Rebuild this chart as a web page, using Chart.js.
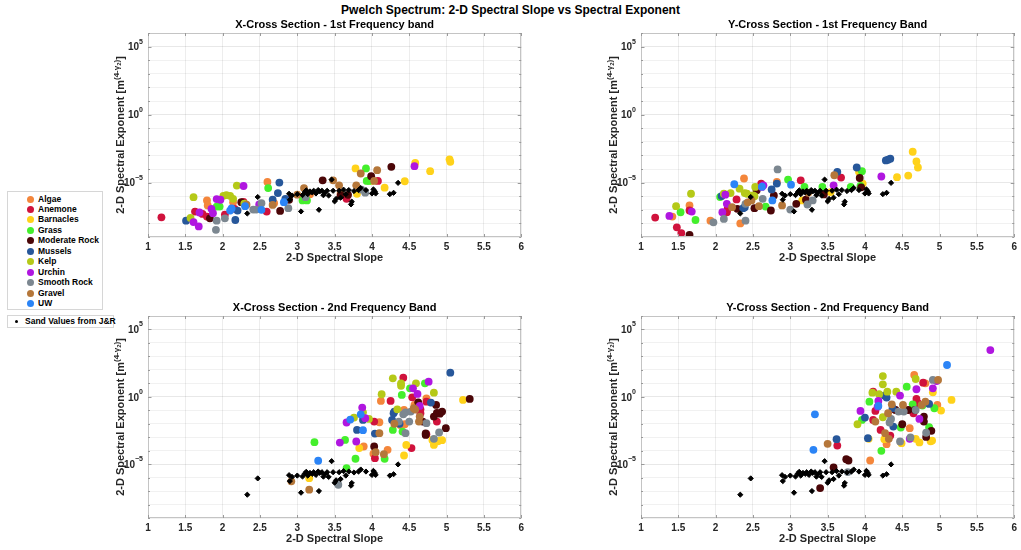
<!DOCTYPE html>
<html>
<head>
<meta charset="utf-8">
<script src="https://cdn.jsdelivr.net/npm/chart.js"></script>
<style>
html, body { margin: 0; padding: 0; background: #fff; overflow: hidden; width: 1021px; height: 550px; font-family: "Liberation Sans", Arial, sans-serif; }
canvas { position: absolute; }
#title { position: absolute; left: 0; top: 3px; width: 1021px; text-align: center; font-weight: bold; font-size: 12px; color: #000; }
.leg { position: absolute; background: #fff; border: 1px solid #d6d6d6; font-weight: bold; font-size: 8.5px; color: #000; }
.leg div { position: absolute; white-space: nowrap; }
.dot { position: absolute; width: 7px; height: 7px; border-radius: 50%; }
</style>
</head>
<body>
<div id="title">Pwelch Spectrum: 2-D Spectral Slope vs Spectral Exponent</div>
<div class="leg" id="leg1" style="left:7px;top:191px;width:94px;height:117px"></div>
<div class="leg" id="leg2" style="left:7px;top:315px;width:105px;height:11px"></div>

<canvas id="c1" width="428" height="256" style="left:100px;top:11px"></canvas>
<canvas id="c2" width="428" height="256" style="left:593px;top:11px"></canvas>
<canvas id="c3" width="428" height="254" style="left:100px;top:294px"></canvas>
<canvas id="c4" width="428" height="254" style="left:593px;top:294px"></canvas>

<script>
// categories and colours
const categories = ['Algae', 'Anemone', 'Barnacles', 'Grass', 'Moderate Rock', 'Mussels', 'Kelp', 'Urchin', 'Smooth Rock', 'Gravel', 'UW'];
const colors = ['#f4863b', '#d0123c', '#ffd21a', '#44ef2c', '#4b0608', '#27579a', '#b5c918', '#b016e0', '#7c8790', '#b5773a', '#2b84f6'];

// points are [2-D spectral slope, log10 of spectral exponent]
// sand values from J&R (same in every panel)
const sand = [[2.33,-7.27],[2.47,-6.06],[2.89,-5.82],[2.90,-6.26],[2.93,-5.95],[3.00,-5.85],[3.05,-7.12],[3.07,-5.92],
  [3.10,-5.70],[3.12,-5.57],[3.14,-5.85],[3.17,-5.65],[3.20,-5.72],[3.22,-5.60],[3.25,-5.80],[3.28,-5.55],[3.29,-7.00],
  [3.30,-5.65],[3.33,-5.60],[3.35,-5.93],[3.37,-5.75],[3.40,-5.60],[3.42,-5.95],[3.46,-4.78],[3.48,-5.60],[3.50,-6.38],
  [3.52,-6.20],[3.56,-5.60],[3.58,-6.11],[3.62,-5.52],[3.65,-5.85],[3.69,-5.55],[3.72,-6.60],[3.73,-6.40],[3.76,-5.62],
  [3.82,-5.55],[3.85,-5.40],[3.92,-5.55],[4.00,-5.80],[4.02,-5.50],[4.04,-5.65],[4.05,-5.80],[4.24,-5.85],[4.29,-5.75],[4.35,-5.02]];

// X-Cross Section - 1st Frequency band
const xs1_algae = [[1.79,-6.31],[1.80,-6.68],[2.14,-6.44],[2.60,-4.95],[2.69,-6.51],[3.17,-5.85],[3.58,-5.80]];
const xs1_anemone = [[1.18,-7.55],[1.63,-7.13],[1.73,-7.30],[1.79,-7.50],[2.03,-7.35],[2.16,-6.93],[2.28,-6.41],[2.59,-7.13],[3.66,-6.19],[4.08,-4.88]];
const xs1_barnacles = [[3.78,-3.96],[3.80,-5.82],[3.99,-4.88],[4.17,-5.37],[4.44,-4.90],[4.58,-3.55],[4.78,-4.16],[5.04,-3.29],[5.05,-3.47]];
const xs1_grass = [[1.92,-6.76],[1.96,-6.76],[2.61,-5.40],[3.07,-6.31],[3.13,-6.31],[3.92,-3.96],[3.93,-4.88],[3.96,-4.88]];
const xs1_modrock = [[1.83,-7.63],[2.25,-6.44],[2.77,-7.08],[2.89,-6.26],[3.34,-4.83],[3.58,-5.94],[3.68,-5.90],[3.99,-4.53],[4.26,-3.84]];
const xs1_mussels = [[1.51,-7.80],[2.17,-7.75],[2.20,-7.06],[2.67,-6.26],[2.74,-5.77],[2.76,-5.00],[2.84,-6.20]];
const xs1_kelp = [[1.57,-7.60],[1.61,-6.07],[2.01,-5.97],[2.05,-5.92],[2.10,-5.97],[2.14,-6.19],[2.19,-5.22],[2.29,-6.55]];
const xs1_urchin = [[1.61,-7.90],[1.68,-8.22],[1.69,-7.20],[1.85,-6.93],[1.87,-7.25],[1.92,-6.21],[1.97,-6.26],[2.28,-5.25],[2.49,-6.61],[4.57,-3.79]];
const xs1_smooth = [[1.91,-8.47],[1.92,-7.80],[2.03,-7.63],[2.41,-6.98],[2.45,-6.98],[2.52,-6.51],[2.88,-6.88],[3.11,-6.07],[3.86,-5.52],[3.91,-5.74]];
const xs1_gravel = [[2.32,-6.63],[2.67,-6.64],[3.00,-5.89],[3.09,-5.40],[3.48,-4.83],[3.56,-5.20],[3.79,-5.20],[3.85,-4.33],[4.03,-4.88],[4.07,-4.09]];
const xs1_uw = [[2.10,-7.06],[2.12,-6.90],[2.30,-6.73],[2.52,-7.00],[2.82,-6.44]];

// Y-Cross Section - 1st Frequency Band
const ys1_algae = [[1.42,-7.50],[1.65,-6.68],[1.93,-7.80],[2.33,-8.00],[2.38,-4.70],[2.82,-4.95]];
const ys1_anemone = [[1.19,-7.57],[1.48,-8.29],[1.54,-8.71],[1.65,-7.05],[2.15,-7.18],[2.16,-6.95],[2.28,-6.24],[2.61,-5.07],[3.14,-4.83],[3.68,-4.63]];
const ys1_barnacles = [[3.16,-6.31],[3.54,-5.70],[3.92,-4.21],[3.97,-5.07],[4.43,-4.60],[4.58,-4.48],[4.64,-2.73],[4.69,-3.45],[4.71,-3.89]];
const ys1_grass = [[1.53,-7.18],[1.73,-7.75],[2.06,-6.06],[2.67,-6.76],[2.97,-4.78],[3.19,-5.32],[3.43,-5.32],[3.81,-5.32],[3.94,-5.25],[3.96,-4.16]];
const ys1_modrock = [[1.65,-8.84],[2.29,-6.93],[2.52,-6.88],[2.55,-5.57],[2.74,-7.05],[2.78,-5.94],[3.08,-6.56],[3.21,-6.26],[3.45,-5.87],[3.93,-4.66],[3.95,-5.35]];
const ys1_mussels = [[2.08,-5.99],[2.37,-6.88],[2.39,-6.81],[2.75,-5.50],[2.82,-5.07],[3.63,-4.21],[3.89,-3.89],[4.28,-3.37],[4.31,-3.32],[4.34,-3.24]];
const ys1_kelp = [[1.47,-6.73],[1.67,-5.82],[2.11,-5.82],[2.20,-5.77],[2.32,-5.45],[2.39,-5.77],[2.42,-5.82],[2.50,-5.94],[2.52,-6.00],[2.53,-5.32]];
const ys1_urchin = [[1.38,-7.45],[1.68,-7.13],[2.09,-7.18],[2.13,-5.89],[2.15,-6.56],[2.62,-5.32],[2.64,-5.20],[3.58,-5.20],[4.22,-4.55]];
const ys1_smooth = [[1.97,-7.92],[2.11,-7.67],[2.40,-6.56],[2.40,-7.80],[2.63,-6.19],[2.83,-4.03],[3.00,-6.98],[3.23,-6.61],[3.30,-6.31]];
const ys1_gravel = [[2.22,-6.81],[2.43,-6.45],[2.48,-6.31],[2.58,-6.73],[2.89,-6.68],[3.24,-5.75],[3.59,-4.46]];
const ys1_uw = [[2.25,-5.12],[2.62,-5.30],[2.76,-6.31],[3.01,-5.15]];

// X-Cross Section - 2nd Frequency Band
const xs2_algae = [[3.89,-3.69],[4.02,-4.23],[4.10,-1.89],[4.12,-0.31],[4.21,-3.94],[4.38,-2.10],[4.43,-0.98],[4.44,-2.04],[4.57,-0.60],[4.73,-0.11]];
const xs2_anemone = [[4.03,-1.84],[4.04,-4.56],[4.25,-0.31],[4.42,1.42],[4.53,-3.81],[4.54,-0.04],[4.65,-0.93],[4.65,-1.22],[4.73,-2.78],[4.73,-0.36],[4.87,-1.84]];
const xs2_barnacles = [[3.16,-6.04],[3.83,-3.81],[4.43,-4.36],[4.46,-3.57],[4.81,-3.20],[4.83,-3.57],[4.88,-3.30],[4.90,-3.25],[4.94,-3.22],[5.22,-0.23]];
const xs2_grass = [[3.23,-3.37],[3.64,-3.20],[3.66,-5.30],[3.78,-4.60],[4.17,-4.60],[4.28,-2.46],[4.40,0.14],[4.41,-2.58],[4.51,0.63],[4.71,1.00]];
const xs2_modrock = [[4.03,-3.69],[4.62,-0.41],[4.68,-1.84],[4.72,-2.83],[4.72,-2.72],[4.83,-1.47],[4.86,-0.60],[4.87,-1.20],[4.91,-1.25],[4.94,-1.10],[4.99,-2.33],[5.31,-0.16]];
const xs2_mussels = [[3.80,-2.46],[3.88,-1.72],[4.04,-2.73],[4.27,-1.72],[4.29,-1.22],[4.30,-1.10],[4.37,-2.00],[4.79,-0.43],[5.05,1.79]];
const xs2_kelp = [[3.76,-1.54],[3.88,-1.15],[3.96,-1.64],[4.13,0.19],[4.28,1.37],[4.34,-0.93],[4.39,1.00],[4.39,0.82],[4.59,1.00],[4.83,0.31]];
const xs2_urchin = [[3.57,-3.40],[3.66,-1.91],[3.79,-3.32],[3.87,-0.80],[3.91,-1.59],[4.55,0.63],[4.61,0.21],[4.64,-0.68],[4.76,1.12]];
const xs2_smooth = [[3.55,-6.53],[4.36,-1.84],[4.42,-1.30],[4.45,-1.15],[4.45,-2.70],[4.50,-1.84],[4.52,-1.10],[4.73,-1.96],[4.83,-3.12],[4.90,-2.65]];
const xs2_gravel = [[2.92,-6.28],[3.16,-6.90],[4.05,-4.11],[4.10,-2.70],[4.16,-4.26],[4.30,-2.00],[4.56,-0.85],[4.58,-0.95],[4.63,-1.84],[4.64,-1.47]];
const xs2_uw = [[3.28,-4.75],[3.71,-1.69],[3.85,-1.30],[3.88,-2.48]];

// Y-Cross Section - 2nd Frequency Band
const ys2_algae = [[4.07,-4.73],[4.29,-3.52],[4.60,-2.33],[4.66,1.62],[4.81,1.00],[4.97,-0.60]];
const ys2_anemone = [[3.63,-3.62],[4.11,-1.72],[4.11,0.38],[4.14,-1.05],[4.21,-2.46],[4.34,-2.88],[4.39,-0.93],[4.65,-1.22],[4.69,-0.16],[4.71,-0.48],[4.78,1.05]];
const ys2_barnacles = [[4.05,-3.12],[4.26,-3.15],[4.49,-3.44],[4.68,-3.12],[4.73,-3.39],[4.88,-3.30],[4.90,-3.25],[4.91,0.33],[5.02,-1.02],[5.16,-0.23]];
const ys2_grass = [[3.96,-1.72],[4.06,-0.36],[4.22,-4.01],[4.48,-2.28],[4.56,0.75],[4.64,-0.56],[4.77,-0.65],[4.86,-2.26],[4.93,-0.85]];
const ys2_modrock = [[3.40,-6.78],[3.58,-5.25],[3.75,-4.63],[3.78,-4.73],[4.41,-0.98],[4.50,-2.04],[4.58,-0.98],[4.67,-0.98],[4.79,-1.47],[4.79,-1.84],[4.82,-2.98],[4.89,-2.53]];
const ys2_mussels = [[3.62,-3.15],[4.00,-1.54],[4.04,-3.07],[4.26,0.09],[4.29,-0.06],[4.37,-0.85],[4.38,-2.21],[4.86,-0.53]];
const ys2_kelp = [[3.90,-2.04],[4.10,0.31],[4.19,0.19],[4.24,-1.52],[4.24,1.54],[4.24,0.93],[4.30,0.38],[4.42,0.38],[4.68,1.32]];
const ys2_urchin = [[3.94,-1.05],[4.17,-0.73],[4.18,-0.31],[4.47,0.09],[4.60,-3.12],[4.69,0.56],[4.73,-1.64],[4.91,0.63],[4.96,1.17],[5.68,3.47]];
const ys2_smooth = [[3.77,-5.59],[4.33,-1.91],[4.35,-1.64],[4.45,-1.10],[4.47,-3.32],[4.52,-1.10],[4.61,-3.02],[4.68,-0.98],[4.82,-2.67],[4.91,1.25]];
const ys2_gravel = [[3.50,-3.49],[4.14,-1.84],[4.27,-2.70],[4.31,-1.22],[4.32,-3.12],[4.36,-0.56],[4.51,-0.60],[4.76,-0.60],[4.81,-0.36],[4.98,1.25]];
const ys2_uw = [[3.31,-3.94],[3.33,-1.30],[4.18,-0.68],[5.10,2.36]];

// axis ticks
const xTicks = [1, 1.5, 2, 2.5, 3, 3.5, 4, 4.5, 5, 5.5, 6];
const yDecades = [-9, -8, -7, -6, -5, -4, -3, -2, -1, 0, 1, 2, 3, 4, 5, 6];
const yLabelExps = [-5, 0, 5];

const panels = [
  { id: 'c1', title: 'X-Cross Section - 1st Frequency band', sets: [xs1_algae, xs1_anemone, xs1_barnacles, xs1_grass, xs1_modrock, xs1_mussels, xs1_kelp, xs1_urchin, xs1_smooth, xs1_gravel, xs1_uw] },
  { id: 'c2', title: 'Y-Cross Section - 1st Frequency Band', sets: [ys1_algae, ys1_anemone, ys1_barnacles, ys1_grass, ys1_modrock, ys1_mussels, ys1_kelp, ys1_urchin, ys1_smooth, ys1_gravel, ys1_uw] },
  { id: 'c3', title: 'X-Cross Section - 2nd Frequency Band', sets: [xs2_algae, xs2_anemone, xs2_barnacles, xs2_grass, xs2_modrock, xs2_mussels, xs2_kelp, xs2_urchin, xs2_smooth, xs2_gravel, xs2_uw] },
  { id: 'c4', title: 'Y-Cross Section - 2nd Frequency Band', sets: [ys2_algae, ys2_anemone, ys2_barnacles, ys2_grass, ys2_modrock, ys2_mussels, ys2_kelp, ys2_urchin, ys2_smooth, ys2_gravel, ys2_uw] }
];

const FONT = '"Liberation Sans", Arial, sans-serif';
const toPts = arr => arr.map(p => ({ x: p[0], y: Math.pow(10, p[1]) }));

// box, inward ticks, 10^n labels and the titles
const frame = {
  id: 'frame',
  afterDraw(chart, args, opts) {
    const { ctx, chartArea: a, scales } = chart;
    ctx.save();
    ctx.strokeStyle = '#c4c4c4';
    ctx.lineWidth = 1;
    ctx.strokeRect(Math.round(a.left) + 0.5, Math.round(a.top) + 0.5, Math.round(a.width) - 1, Math.round(a.height) - 1);
    ctx.strokeStyle = '#9a9a9a';
    ctx.beginPath();
    xTicks.forEach(v => {
      const px = Math.round(scales.x.getPixelForValue(v)) + 0.5;
      ctx.moveTo(px, a.bottom); ctx.lineTo(px, a.bottom - 3);
      ctx.moveTo(px, a.top); ctx.lineTo(px, a.top + 3);
    });
    yDecades.forEach(e => {
      const py = Math.round(scales.y.getPixelForValue(Math.pow(10, e))) + 0.5;
      const len = yLabelExps.includes(e) ? 3.5 : 2;
      ctx.moveTo(a.left, py); ctx.lineTo(a.left + len, py);
      ctx.moveTo(a.right, py); ctx.lineTo(a.right - len, py);
    });
    ctx.stroke();

    // y tick labels 10^n
    ctx.fillStyle = '#262626';
    ctx.textBaseline = 'middle';
    yLabelExps.forEach(e => {
      const py = scales.y.getPixelForValue(Math.pow(10, e));
      const sup = String(e).replace('-', '\u2212');
      ctx.font = 'bold 7px ' + FONT;
      const sw = ctx.measureText(sup).width;
      ctx.textAlign = 'left';
      ctx.fillText(sup, a.left - 5 - sw, py - 5);
      ctx.font = 'bold 10px ' + FONT;
      ctx.textAlign = 'right';
      ctx.fillText('10', a.left - 5 - sw, py + 1);
    });

    const cx = (a.left + a.right) / 2;
    ctx.textAlign = 'center';
    ctx.textBaseline = 'alphabetic';
    ctx.fillStyle = '#000';
    ctx.font = 'bold 11px ' + FONT;
    ctx.fillText(opts.title, cx, a.top - 5);
    ctx.fillStyle = '#262626';
    ctx.fillText('2-D Spectral Slope', cx, a.bottom + 24);

    // y label with superscript exponent
    const parts = [
      { t: '2-D Spectral Exponent [m', f: 11, dy: 0 },
      { t: '(4-\u03B3', f: 8, dy: -5 },
      { t: '2', f: 6, dy: -3 },
      { t: ')', f: 8, dy: -5 },
      { t: ']', f: 11, dy: 0 }
    ];
    let total = 0;
    parts.forEach(p => { ctx.font = 'bold ' + p.f + 'px ' + FONT; p.w = ctx.measureText(p.t).width; total += p.w; });
    ctx.translate(a.left - 24, (a.top + a.bottom) / 2);
    ctx.rotate(-Math.PI / 2);
    ctx.textAlign = 'left';
    let x0 = -total / 2;
    parts.forEach(p => {
      ctx.font = 'bold ' + p.f + 'px ' + FONT;
      ctx.fillText(p.t, x0, p.dy);
      x0 += p.w;
    });
    ctx.restore();
  }
};

panels.forEach(panel => {
  const datasets = [{
    label: 'Sand Values from J&R',
    data: toPts(sand),
    pointStyle: 'rectRot',
    pointRadius: 2.6,
    backgroundColor: '#000',
    borderColor: '#000',
    borderWidth: 1
  }];
  // later categories drawn on top
  for (let i = categories.length - 1; i >= 0; i--) {
    datasets.push({
      label: categories[i],
      data: toPts(panel.sets[i]),
      pointStyle: 'circle',
      pointRadius: 3.9,
      backgroundColor: colors[i],
      borderWidth: 0
    });
  }
  new Chart(document.getElementById(panel.id), {
    type: 'scatter',
    data: { datasets },
    plugins: [frame],
    options: {
      responsive: false,
      animation: false,
      events: [],
      layout: { padding: { left: 0, right: panel.id === 'c2' || panel.id === 'c4' ? 5 : 6, top: 22, bottom: 0 } },
      plugins: {
        legend: { display: false },
        tooltip: { enabled: false },
        title: { display: false },
        frame: { title: panel.title }
      },
      scales: {
        x: {
          type: 'linear', min: 1, max: 6,
          afterBuildTicks: s => { s.ticks = xTicks.map(v => ({ value: v })); },
          afterFit: s => { s.height = 30; },
          ticks: {
            autoSkip: false, maxRotation: 0, padding: 4, color: '#262626',
            font: { family: FONT, size: 10, weight: 'bold' },
            callback: v => String(v)
          },
          grid: { drawTicks: false, color: 'rgba(0,0,0,0.07)' },
          border: { display: false }
        },
        y: {
          type: 'logarithmic', min: 1e-9, max: 1e6,
          afterBuildTicks: s => { s.ticks = yDecades.map(e => ({ value: Math.pow(10, e) })); },
          afterFit: s => { s.width = 48; },
          ticks: { display: false },
          grid: {
            drawTicks: false,
            color: c => yLabelExps.includes(Math.round(Math.log10(c.tick.value))) ? 'rgba(0,0,0,0.09)' : 'rgba(0,0,0,0.055)'
          },
          border: { display: false }
        }
      }
    }
  });
});

// legend boxes
const leg1 = document.getElementById('leg1');
categories.forEach((name, i) => {
  const cy = 7 + i * 10.47;
  const d = document.createElement('span');
  d.className = 'dot';
  d.style.background = colors[i];
  d.style.left = '19px';
  d.style.top = (cy - 3.5) + 'px';
  leg1.appendChild(d);
  const t = document.createElement('div');
  t.textContent = name;
  t.style.left = '30px';
  t.style.top = (cy - 5.5) + 'px';
  leg1.appendChild(t);
});
const leg2 = document.getElementById('leg2');
const sd = document.createElement('span');
sd.className = 'dot';
sd.style.cssText = 'background:#000;width:3px;height:3px;left:7px;top:4px';
leg2.appendChild(sd);
const st = document.createElement('div');
st.textContent = 'Sand Values from J&R';
st.style.left = '17px';
st.style.top = '0px';
leg2.appendChild(st);
</script>
</body>
</html>
